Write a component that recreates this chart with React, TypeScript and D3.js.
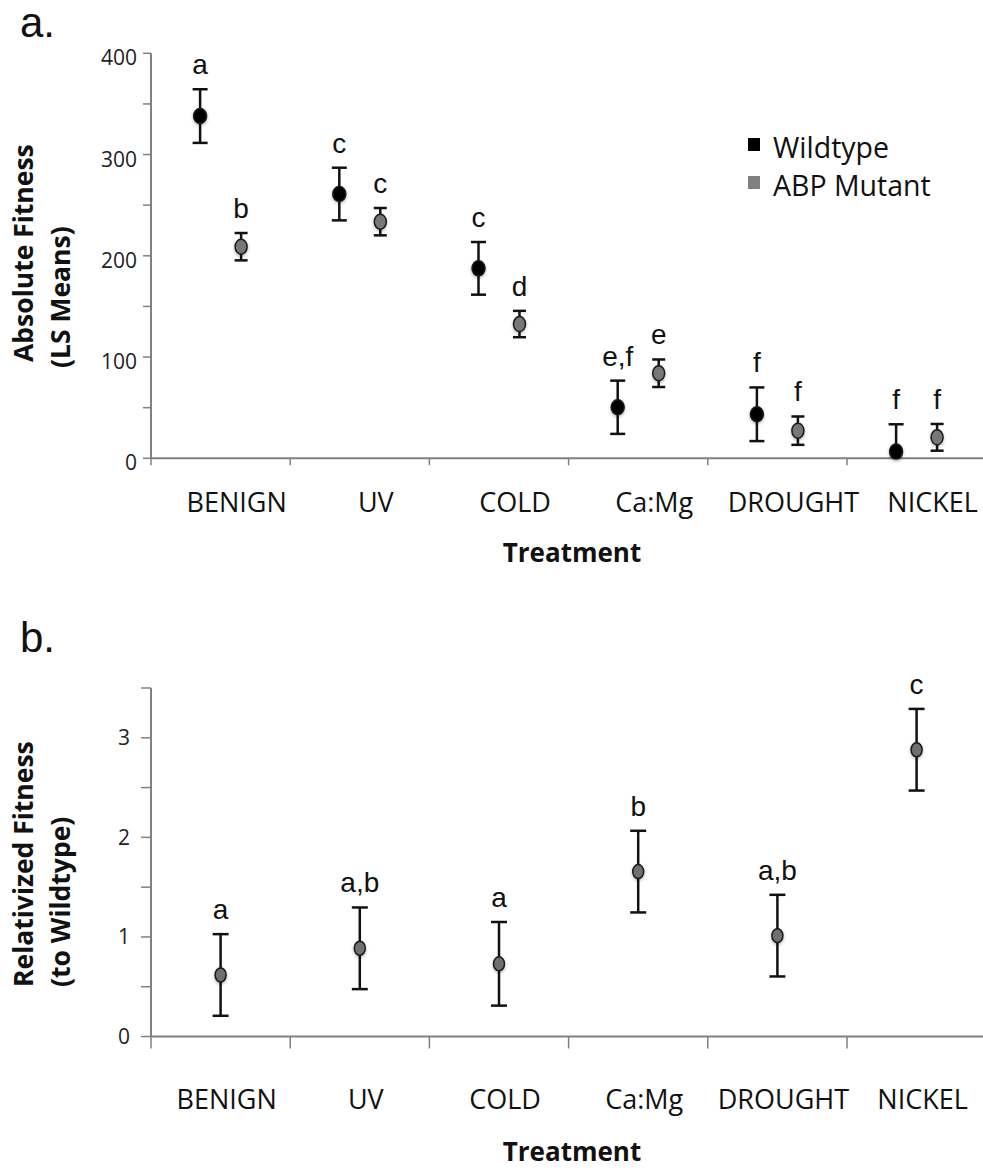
import React from "react";
import * as d3 from "d3";

const categories = ["BENIGN", "UV", "COLD", "Ca:Mg", "DROUGHT", "NICKEL"];
const seriesNames = ["Wildtype", "ABP Mutant"];
const wildtypeMean = [338, 261, 187.6, 50.4, 43.5, 6.6];
const wildtypeErr = [26.5, 26, 26, 26.3, 26.5, 27];
const wildtypeLetters = ["a", "c", "c", "e,f", "f", "f"];
const mutantMean = [209, 233.7, 132.6, 84, 27.3, 20.7];
const mutantErr = [13.5, 13.5, 13, 13.6, 14, 13.2];
const mutantLetters = ["b", "c", "d", "e", "f", "f"];
const relMean = [0.618, 0.886, 0.73, 1.656, 1.013, 2.88];
const relErr = [0.41, 0.41, 0.42, 0.41, 0.41, 0.41];
const relLetters = ["a", "a,b", "a", "b", "a,b", "c"];
const absTickLabels = [0, 100, 200, 300, 400];
const absMinorTicks = [0, 50, 100, 150, 200, 250, 300, 350, 400];
const relTickLabels = [0, 1, 2, 3];
const relMinorTicks = [0, 0.5, 1, 1.5, 2, 2.5, 3, 3.5];

const W = 983;
const H = 1170;
const SANS = "'Open Sans', sans-serif";
const ARIAL = "'Liberation Sans', Arial, sans-serif";
const AXIS = "#808080";

const x = d3.scaleBand<string>().domain(categories).range([151, 151 + 6 * 139.2]).padding(0);
const offset = d3.scalePoint<string>().domain(seriesNames).range([-20.5, 20.5]);
const yTop = d3.scaleLinear().domain([0, 400]).range([458.3, 53.3]);
const yBot = d3.scaleLinear().domain([0, 3.5]).range([1036.5, 688]);

type EBProps = { cx: number; y: d3.ScaleLinear<number, number>; mean: number; err: number; cap: number; rx: number; ry: number; fill: string; letter: string };

function ErrPoint({ cx, y, mean, err, cap, rx, ry, fill, letter }: EBProps) {
  const lo = Math.max(0, mean - err);
  const clamped = mean - err < 0;
  const yHi = y(mean + err);
  const yLo = y(lo);
  return (
    <g>
      <line x1={cx} x2={cx} y1={yHi} y2={yLo} stroke="#111" strokeWidth={2.5} />
      <line x1={cx - cap / 2} x2={cx + cap / 2} y1={yHi} y2={yHi} stroke="#111" strokeWidth={2.5} />
      {!clamped && <line x1={cx - cap / 2} x2={cx + cap / 2} y1={yLo} y2={yLo} stroke="#111" strokeWidth={2.5} />}
      <ellipse cx={cx} cy={y(mean)} rx={rx} ry={ry} fill={fill} stroke="#1a1a1a" strokeWidth={1.5} filter="url(#sh)" />
      <text x={cx} y={yHi - 15} textAnchor="middle" fontFamily={ARIAL} fontSize={28} fill="#111">{letter}</text>
    </g>
  );
}

export default function App() {
  const xEnd = W;
  return (
    <svg width={W} height={H} style={{ position: "absolute", left: 0, top: 0, background: "#fff" }}>
      <defs>
        <filter id="sh" x="-50%" y="-50%" width="200%" height="200%">
          <feDropShadow dx="0" dy="1.5" stdDeviation="1.5" floodColor="#000" floodOpacity="0.3" />
        </filter>
      </defs>
      <rect width={W} height={H} fill="#fff" />

      {/* ---------- Panel a ---------- */}
      <text x={20} y={37} fontFamily={ARIAL} fontSize={42} fill="#111">a.</text>
      <line x1={x.range()[0]} x2={x.range()[0]} y1={yTop(400)} y2={yTop(0)} stroke={AXIS} strokeWidth={2} />
      {absMinorTicks.map((t) => (
        <line key={"ta" + t} x1={x.range()[0] - 8} x2={x.range()[0]} y1={yTop(t)} y2={yTop(t)} stroke={AXIS} strokeWidth={1.5} />
      ))}
      {absTickLabels.map((t) => (
        <text key={"la" + t} x={137} y={yTop(t) + 12} textAnchor="end" fontFamily={SANS} fontSize={21} fill="#222">{t}</text>
      ))}
      <line x1={x.range()[0]} x2={xEnd} y1={yTop(0)} y2={yTop(0)} stroke={AXIS} strokeWidth={2} />
      {categories.map((c) => (
        <line key={"xa" + c} x1={x(c)!} x2={x(c)!} y1={yTop(0)} y2={yTop(0) + 7} stroke={AXIS} strokeWidth={1.5} />
      ))}
      {categories.map((c) => (
        <text key={"ca" + c} x={x(c)! + x.bandwidth() / 2 + 16} y={512} textAnchor="middle" fontFamily={SANS} fontSize={27} fill="#111">{c}</text>
      ))}
      <text x={572} y={562} textAnchor="middle" fontFamily={SANS} fontWeight="bold" fontSize={26} fill="#111">Treatment</text>
      <text transform="translate(33,362) rotate(-90)" fontFamily={SANS} fontWeight="bold" fontSize={26.5} fill="#111">Absolute Fitness</text>
      <text transform="translate(70,368) rotate(-90)" fontFamily={SANS} fontWeight="bold" fontSize={26.5} fill="#111">(LS Means)</text>

      {categories.map((c, i) => (
        <g key={"pa" + c}>
          <ErrPoint cx={x(c)! + x.bandwidth() / 2 + offset("Wildtype")!} y={yTop} mean={wildtypeMean[i]} err={wildtypeErr[i]} cap={15} rx={6.5} ry={7.5} fill="#000" letter={wildtypeLetters[i]} />
          <ErrPoint cx={x(c)! + x.bandwidth() / 2 + offset("ABP Mutant")!} y={yTop} mean={mutantMean[i]} err={mutantErr[i]} cap={13} rx={6} ry={7.5} fill="#777" letter={mutantLetters[i]} />
        </g>
      ))}

      {/* legend */}
      <rect x={748} y={138} width={12} height={13} fill="#000" />
      <text x={773} y={158} fontFamily={SANS} fontSize={28.5} fill="#111">{seriesNames[0]}</text>
      <rect x={748} y={176} width={12} height={13} fill="#808080" />
      <text x={773} y={196} fontFamily={SANS} fontSize={28.5} fill="#111">{seriesNames[1]}</text>

      {/* ---------- Panel b ---------- */}
      <text x={20} y={652} fontFamily={ARIAL} fontSize={42} fill="#111">b.</text>
      <line x1={x.range()[0]} x2={x.range()[0]} y1={yBot(3.5)} y2={yBot(0)} stroke={AXIS} strokeWidth={2} />
      {relMinorTicks.map((t) => (
        <line key={"tb" + t} x1={x.range()[0] - 10} x2={x.range()[0]} y1={yBot(t)} y2={yBot(t)} stroke={AXIS} strokeWidth={1.5} />
      ))}
      {relTickLabels.map((t) => (
        <text key={"lb" + t} x={130} y={yBot(t) + 7.5} textAnchor="end" fontFamily={SANS} fontSize={21} fill="#222">{t}</text>
      ))}
      <line x1={x.range()[0]} x2={xEnd} y1={yBot(0)} y2={yBot(0)} stroke={AXIS} strokeWidth={2} />
      {categories.map((c) => (
        <line key={"xb" + c} x1={x(c)!} x2={x(c)!} y1={yBot(0)} y2={yBot(0) + 12} stroke={AXIS} strokeWidth={1.5} />
      ))}
      {categories.map((c) => (
        <text key={"cb" + c} x={x(c)! + x.bandwidth() / 2 + 6} y={1109} textAnchor="middle" fontFamily={SANS} fontSize={27} fill="#111">{c}</text>
      ))}
      <text x={572} y={1161} textAnchor="middle" fontFamily={SANS} fontWeight="bold" fontSize={26} fill="#111">Treatment</text>
      <text transform="translate(33,987) rotate(-90)" fontFamily={SANS} fontWeight="bold" fontSize={26.5} fill="#111">Relativized Fitness</text>
      <text transform="translate(70,987) rotate(-90)" fontFamily={SANS} fontWeight="bold" fontSize={26.5} fill="#111">(to Wildtype)</text>

      {categories.map((c, i) => (
        <ErrPoint key={"pb" + c} cx={x(c)! + x.bandwidth() / 2} y={yBot} mean={relMean[i]} err={relErr[i]} cap={16} rx={5.5} ry={7} fill="#6f6f6f" letter={relLetters[i]} />
      ))}
    </svg>
  );
}
